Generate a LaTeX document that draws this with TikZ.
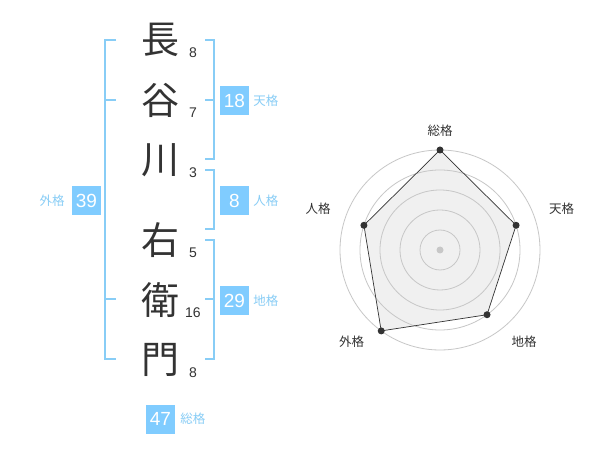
\documentclass[tikz,border=0pt]{standalone}
\usepackage{fontspec}
\setmainfont{Liberation Sans}
\newfontfamily\jpfont{Noto Sans CJK JP}
\usepackage{xcolor}
\usetikzlibrary{positioning}
\definecolor{skyblue}{HTML}{80CCFF}
\definecolor{lineblue}{HTML}{88CDF6}
\definecolor{ink}{HTML}{333333}
\tikzstyle{kanji} = [font=\jpfont\fontsize{38}{38}\selectfont, text=ink, inner sep=0pt]
\tikzstyle{strokes} = [font=\fontsize{14}{14}\selectfont, text=ink, inner sep=0pt]
\tikzstyle{score} = [rectangle,
minimum width=29pt,
minimum height=29pt,
inner sep=0pt,
fill=skyblue,
text=white,
font=\fontsize{19}{19}\selectfont]
\tikzstyle{kaku} = [text=lineblue, inner sep=0pt, font=\jpfont\fontsize{12.5}{12.5}\selectfont]
\tikzstyle{bracket} = [draw=lineblue, line width=2.2pt]
\tikzstyle{axislabel} = [text=ink, inner sep=0pt, font=\jpfont\fontsize{12.5}{12.5}\selectfont]
\tikzstyle{ring} = [draw=black!22, line width=0.8pt]
\tikzstyle{vdot} = [circle, fill=ink, inner sep=0pt, minimum size=7pt]

\begin{document}
\begin{tikzpicture}[x=1pt, y=-1pt, node distance=5pt]

  \fill[white] (0,0) rectangle (600,470);
  \useasboundingbox (0,0) rectangle (600,470);

  % name and strokes
  \foreach \ch/\y/\n [count=\i] in {長/40/8, 谷/100/7, 川/160/3, 右/240/5, 衛/300/16, 門/360/8} {
    \node (c\i) [kanji] at (160,\y) {\ch};
    \node (n\i) [strokes] at (193,\y+13) {\n};
  }

  % brackets
  \draw [bracket] (116,40) -- (105,40) -- (105,359) -- (116,359);
  \draw [bracket] (105,100) -- (116,100);
  \draw [bracket] (105,299) -- (116,299);
  \draw [bracket] (205,40) -- (214,40) -- (214,159) -- (205,159);
  \draw [bracket] (214,100) -- (205,100);
  \draw [bracket] (205,170) -- (214,170) -- (214,229) -- (205,229);
  \draw [bracket] (205,240) -- (214,240) -- (214,359) -- (205,359);
  \draw [bracket] (214,299) -- (205,299);

  % scores
  \node (ten) [score] at (234.5,100.5) {18};
  \node (tenlabel) [kaku, right=4pt of ten] {天格};
  \node (jin) [score] at (234.5,200.5) {8};
  \node (jinlabel) [kaku, right=4pt of jin] {人格};
  \node (chi) [score] at (234.5,300.5) {29};
  \node (chilabel) [kaku, right=4pt of chi] {地格};
  \node (gai) [score] at (86.5,200.5) {39};
  \node (gailabel) [kaku, left=7pt of gai] {外格};
  \node (sou) [score] at (160.5,419) {47};
  \node (soulabel) [kaku, right=5pt of sou] {総格};

  % radar chart
  \begin{scope}[shift={(440,250)}, yscale=-1]
    \foreach \name/\ang/\r in {sou/90/100, ten/18/80, chi/-54/80, gai/-126/100, jin/162/80}
      \coordinate (p\name) at (\ang:\r);
    \fill [black!6] (psou) -- (pten) -- (pchi) -- (pgai) -- (pjin) -- cycle;
    \foreach \r in {20,40,...,100}
      \draw [ring] (0,0) circle (\r);
    \draw [ink, line width=0.7pt] (psou) -- (pten) -- (pchi) -- (pgai) -- (pjin) -- cycle;
    \foreach \name in {sou, ten, chi, gai, jin}
      \node [vdot] at (p\name) {};
    \node (center) [circle, fill=black!22, inner sep=0pt, minimum size=7pt] at (0,0) {};
    \node (asou) [axislabel] at (0,119) {総格};
    \node (aten) [axislabel] at (121.7,41) {天格};
    \node (achi) [axislabel] at (84,-91.7) {地格};
    \node (agai) [axislabel] at (-88.3,-92) {外格};
    \node (ajin) [axislabel] at (-122,41) {人格};
  \end{scope}

\end{tikzpicture}
\end{document}
